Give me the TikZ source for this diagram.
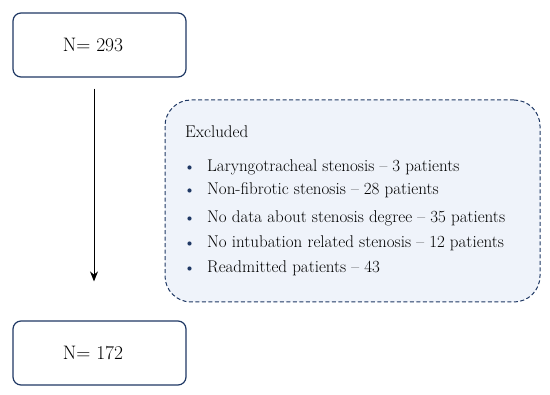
\documentclass[tikz,border=0pt]{standalone}
\usepackage{fontspec}
\usetikzlibrary{arrows.meta}
\definecolor{flowNavy}{HTML}{1F3864}
\definecolor{flowFill}{HTML}{EFF3FA}
\begin{document}
\begin{tikzpicture}[x=1pt, y=-1pt]
% flow chart of patient selection
\def\itemsz{\fontsize{17}{20}\selectfont}
\tikzset{
  countbox/.style={draw=flowNavy, line width=1.2pt, rounded corners=8pt,
    minimum width=173pt, minimum height=64pt, inner sep=0pt,
    font=\fontsize{19.5}{22}\selectfont,
    execute at end node={\hspace*{13pt}}},
  exclbox/.style={draw=flowNavy, fill=flowFill, line width=1pt, dashed,
    dash pattern=on 4pt off 2.5pt, rounded corners=26pt,
    minimum width=375pt, minimum height=202pt, inner sep=0pt},
  itemtext/.style={anchor=base west, inner sep=0pt, font=\itemsz},
  flowarrow/.style={line width=1pt, -{Stealth[length=10pt, width=8pt]}}
}
\useasboundingbox (0,0) rectangle (550,395);
% Count boxes
\node[countbox] (total) at (99.5,45) {N= 293};
\node[countbox] (final) at (99.5,353) {N= 172};
% Excluded patients
\node[exclbox] (excl) at (352.5,201) {};
\node[itemtext] (head) at (185,138) {Excluded};
\foreach \y/\txt [count=\i] in {
  172/{Laryngotracheal stenosis -- 3 patients},
  195/{Non-fibrotic stenosis -- 28 patients},
  223/{No data about stenosis degree -- 35 patients},
  248/{No intubation related stenosis -- 12 patients},
  273/{Readmitted patients -- 43}}
{
  \fill[flowNavy] (189.5,\y-4.5) circle (2.1pt);
  \node[itemtext] (item\i) at (207,\y) {\txt};
}
% Arrow
\draw[flowarrow, shorten <=11pt, shorten >=39pt]
  ([xshift=-5.5pt]total.south) -- ([xshift=-5.5pt]final.north);
\end{tikzpicture}
\end{document}
